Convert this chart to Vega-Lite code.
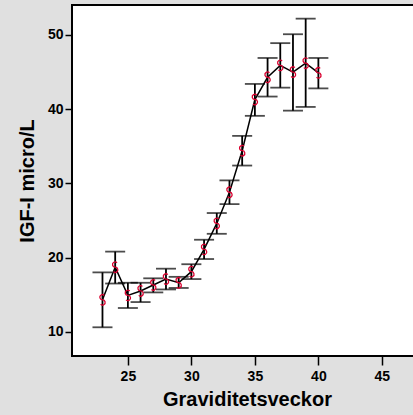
{
  "$schema": "https://vega.github.io/schema/vega-lite/v6.json",
  "autosize": {"type": "none"},
  "padding": {"left": 72, "top": 5, "right": 0, "bottom": 59},
  "width": 350,
  "height": 351,
  "background": "#e0e0e0",
  "config": {
    "view": {"fill": "white", "stroke": "black", "strokeWidth": 2},
    "font": "Liberation Sans",
    "axis": {
      "grid": false,
      "domain": false,
      "tickColor": "black",
      "tickWidth": 1.5,
      "labelColor": "black",
      "labelFont": "Liberation Sans",
      "labelFontWeight": "bold",
      "labelFontSize": 14,
      "titleFont": "Liberation Sans",
      "titleFontWeight": "bold",
      "titleFontSize": 20,
      "titleColor": "black"
    }
  },
  "data": {
    "values": [
      {"week": 23, "mean": 14.3, "lo": 10.6, "hi": 18.0},
      {"week": 24, "mean": 18.7, "lo": 16.5, "hi": 20.8},
      {"week": 25, "mean": 14.9, "lo": 13.2, "hi": 16.6},
      {"week": 26, "mean": 15.5, "lo": 14.0, "hi": 16.6},
      {"week": 27, "mean": 16.3, "lo": 15.3, "hi": 17.2},
      {"week": 28, "mean": 17.1, "lo": 15.7, "hi": 18.5},
      {"week": 29, "mean": 16.6, "lo": 15.9, "hi": 17.4},
      {"week": 30, "mean": 18.1, "lo": 17.1, "hi": 19.1},
      {"week": 31, "mean": 21.1, "lo": 19.8, "hi": 22.4},
      {"week": 32, "mean": 24.6, "lo": 23.2, "hi": 26.0},
      {"week": 33, "mean": 28.8, "lo": 27.2, "hi": 30.4},
      {"week": 34, "mean": 34.4, "lo": 32.4, "hi": 36.4},
      {"week": 35, "mean": 41.3, "lo": 39.1, "hi": 43.4},
      {"week": 36, "mean": 44.3, "lo": 41.7, "hi": 46.9},
      {"week": 37, "mean": 45.9, "lo": 42.9, "hi": 48.9},
      {"week": 38, "mean": 45.0, "lo": 39.8, "hi": 50.1},
      {"week": 39, "mean": 46.2, "lo": 40.3, "hi": 52.2},
      {"week": 40, "mean": 44.9, "lo": 42.8, "hi": 46.9}
    ]
  },
  "encoding": {
    "x": {
      "field": "week",
      "type": "quantitative",
      "scale": {"domain": [20.6, 48.16], "nice": false, "zero": false},
      "axis": {"values": [25, 30, 35, 40, 45], "tickSize": 9, "labelPadding": 4, "title": "Graviditetsveckor", "titlePadding": 6}
    }
  },
  "layer": [
    {
      "mark": {"type": "rule", "color": "black", "strokeWidth": 1.8},
      "encoding": {
        "y": {"field": "lo", "type": "quantitative", "scale": {"domain": [6.73, 54.04], "nice": false, "zero": false},
          "axis": {"values": [10, 20, 30, 40, 50], "tickSize": 7, "labelPadding": 2, "title": "IGF-I micro/L", "titlePadding": 10}},
        "y2": {"field": "hi"}
      }
    },
    {
      "mark": {"type": "tick", "color": "black", "thickness": 1.8, "size": 20, "orient": "horizontal"},
      "encoding": {"y": {"field": "lo", "type": "quantitative"}}
    },
    {
      "mark": {"type": "tick", "color": "black", "thickness": 1.8, "size": 20, "orient": "horizontal"},
      "encoding": {"y": {"field": "hi", "type": "quantitative"}}
    },
    {
      "mark": {"type": "line", "color": "black", "strokeWidth": 1.5},
      "encoding": {"y": {"field": "mean", "type": "quantitative"}}
    },
    {
      "mark": {"type": "point", "shape": "M0.35,-0.85 A0.5,0.5 0 1 0 0,0 A0.5,0.5 0 1 1 -0.35,0.85", "size": 110, "filled": false, "color": "#d9002f", "strokeWidth": 1.3, "opacity": 1},
      "encoding": {"y": {"field": "mean", "type": "quantitative"}}
    }
  ]
}
